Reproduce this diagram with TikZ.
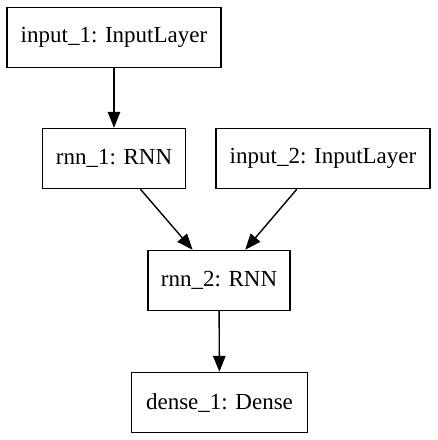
\documentclass[tikz,border=0pt]{standalone}
\usepackage{fontspec}
\setmainfont{Liberation Serif}
\usetikzlibrary{arrows.meta}
\begin{document}
\begin{tikzpicture}[x=1bp,y=-1bp,
  layer/.style={draw,line width=1.4bp,inner sep=0pt,minimum height=60bp,font=\fontsize{23bp}{27bp}\selectfont},
  flow/.style={line width=1.4bp,-{Triangle[length=16bp,width=12.5bp]}}]
  \useasboundingbox (0,0) rectangle (438,440);
  \node[layer,minimum width=214bp] (in1) at (114,37.5) {input\_1: InputLayer};
  \node[layer,minimum width=143bp] (r1) at (114,158.5) {rnn\_1: RNN};
  \node[layer,minimum width=214bp] (in2) at (323,158.5) {input\_2: InputLayer};
  \node[layer,minimum width=142bp] (r2) at (219,280.5) {rnn\_2: RNN};
  \node[layer,minimum width=176bp] (d1) at (219.5,402.5) {dense\_1: Dense};
  \draw[flow] (in1) -- (r1);
  \draw[flow] (r1) -- (r2);
  \draw[flow] (in2) -- (r2);
  \draw[flow] (r2) -- (d1);
\end{tikzpicture}
\end{document}
